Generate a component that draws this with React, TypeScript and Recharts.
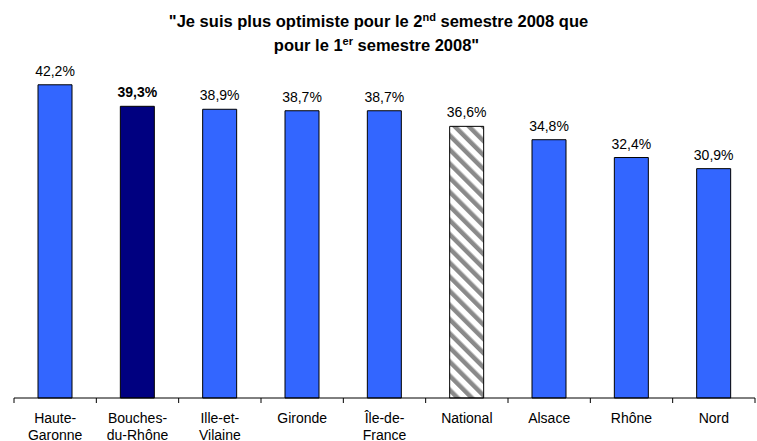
import React from "react";
import { BarChart, Bar, XAxis, YAxis, Cell, LabelList } from "recharts";

const categories = ["Haute-Garonne", "Bouches-du-Rhône", "Ille-et-Vilaine", "Gironde", "Île-de-France", "National", "Alsace", "Rhône", "Nord"];
const tickLines: string[][] = [["Haute-", "Garonne"], ["Bouches-", "du-Rhône"], ["Ille-et-", "Vilaine"], ["Gironde"], ["Île-de-", "France"], ["National"], ["Alsace"], ["Rhône"], ["Nord"]];
const values = [42.2, 39.3, 38.9, 38.7, 38.7, 36.6, 34.8, 32.4, 30.9];
const highlight = "Bouches-du-Rhône";
const nationalName = "National";

const data = categories.map((c, i) => ({ name: c, value: values[i], idx: i }));

const FONT = "'Liberation Sans', Arial, sans-serif";

const Tick = (props: any) => {
  const { x, y, payload, index } = props;
  const half = payload && payload.offset ? payload.offset : 41;
  const lines = tickLines[index] || [String(payload.value)];
  const axisY = y - 8;
  return (
    <g>
      <line x1={x - half} y1={axisY} x2={x - half} y2={axisY + 5} stroke="#000" strokeWidth={1} />
      {index === categories.length - 1 && (
        <line x1={x + half} y1={axisY} x2={x + half} y2={axisY + 5} stroke="#000" strokeWidth={1} />
      )}
      <text x={x} y={axisY + 25} textAnchor="middle" fontSize={14} fontFamily={FONT} fill="#000">
        {lines.map((l, i) => (
          <tspan key={i} x={x} dy={i === 0 ? 0 : 17}>{l}</tspan>
        ))}
      </text>
    </g>
  );
};

const ValueLabel = (props: any) => {
  const { x, y, width, value, index } = props;
  const bold = categories[index] === highlight;
  return (
    <text x={x + width / 2} y={y - 9} textAnchor="middle" fontSize={14} fontFamily={FONT} fontWeight={bold ? "bold" : "normal"} fill="#000">
      {String(value.toFixed(1)).replace(".", ",") + "%"}
    </text>
  );
};

export default function App() {
  return (
    <div style={{ position: "absolute", left: 0, top: 0, width: 757, height: 441, background: "#fff" }}>
      <div style={{ position: "absolute", left: 0, top: 9, width: 757, textAlign: "center", fontFamily: FONT, fontWeight: "bold", fontSize: 16.5, lineHeight: "24px", color: "#000", paddingRight: 4 }}>
        <div>"Je suis plus optimiste pour le 2<sup style={{ fontSize: 11, lineHeight: 0 }}>nd</sup> semestre 2008 que</div>
        <div style={{ paddingRight: 4 }}>pour le 1<sup style={{ fontSize: 11, lineHeight: 0 }}>er</sup> semestre 2008"</div>
      </div>
      <BarChart width={757} height={441} data={data} margin={{ top: 64, right: 2, bottom: 0, left: 14 }}>
        <defs>
          <pattern id="hatch" width="10" height="10" patternUnits="userSpaceOnUse" patternTransform="rotate(-45)">
            <rect width="10" height="10" fill="#fff" />
            <rect width="4.5" height="10" fill="#8a8a8a" />
          </pattern>
        </defs>
        <XAxis dataKey="name" interval={0} tickLine={false} axisLine={{ stroke: "#000" }} tick={<Tick />} height={43} />
        <YAxis hide domain={[0, 45]} type="number" width={0} />
        <Bar dataKey="value" barSize={34} isAnimationActive={false} stroke="#000" strokeWidth={1}>
          {data.map((d, i) => (
            <Cell key={i} fill={d.name === highlight ? "#000080" : d.name === nationalName ? "url(#hatch)" : "#3366FF"} />
          ))}
          <LabelList dataKey="value" content={<ValueLabel />} />
        </Bar>
      </BarChart>
    </div>
  );
}
